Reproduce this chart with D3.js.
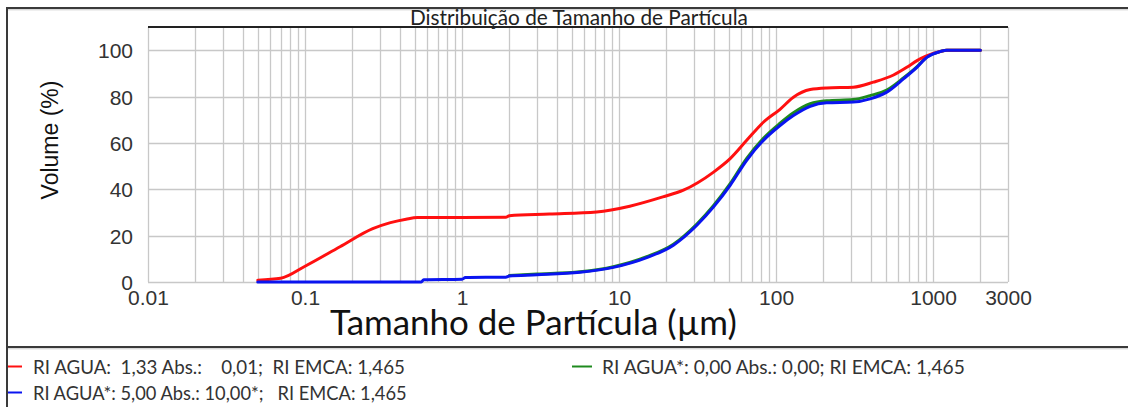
<!DOCTYPE html>
<html>
<head>
<meta charset="utf-8">
<script src="https://cdn.jsdelivr.net/npm/d3@7"></script>
<style>
  html, body { margin: 0; padding: 0; background: #fff; }
  svg { display: block; }
  text { white-space: pre; }
</style>
</head>
<body>
<svg id="chart" width="1128" height="407"></svg>
<script>
// Particle size distribution: cumulative volume (%) versus particle size (µm)
const chartTitle = "Distribuição de Tamanho de Partícula";
const xTitle = "Tamanho de Partícula (µm)";
const yTitle = "Volume (%)";

const xTickValues = [0.01, 0.1, 1, 10, 100, 1000, 3000];
const xTickLabels = ["0.01", "0.1", "1", "10", "100", "1000", "3000"];
const yTickValues = [0, 20, 40, 60, 80, 100];

// [size µm, cumulative volume %]
const seriesRed = [
  [0.05, 0.8], [0.07, 1.6], [0.1, 6.8], [0.167, 15.2], [0.27, 23], [0.35, 25.6],
  [0.44, 27.1], [0.52, 27.8], [1.0, 27.8], [1.9, 27.9], [2.0, 28.6], [3.6, 29.3],
  [7.2, 30.2], [11.7, 32.7], [19, 36.7], [25.7, 39.6], [40, 47.4], [51, 53.2],
  [65, 61.1], [83, 68.9], [106, 74.5], [129, 79.7], [165, 83], [210, 83.7],
  [310, 84], [417, 86.2], [560, 89.3], [680, 92.6], [790, 95.5], [900, 97.4],
  [1108, 99.4], [1222, 100], [2000, 100]
];
const seriesGreen = [
  [2.0, 2.8], [3.0, 3.4], [5.65, 4.4], [9.2, 6.6], [15, 10.9], [22.2, 16.3],
  [31.3, 25], [40, 33], [51, 42.4], [65, 53.3], [83, 62], [106, 68.5],
  [129, 73], [165, 76.9], [210, 78.2], [310, 78.7], [397, 80.4], [507, 82.8],
  [647, 88], [788, 92.8], [912, 97], [1108, 99.4], [1222, 100], [2000, 100]
];
const seriesBlue = [
  [0.05, 0], [0.55, 0], [0.57, 1.0], [1.0, 1.2], [1.05, 1.9], [1.9, 2.1],
  [2.0, 2.6], [3.0, 3.1], [5.65, 4.2], [9.2, 6.3], [15, 10.5], [22.2, 15.9],
  [31.3, 24.5], [40, 32.4], [51, 41.7], [65, 52.5], [83, 61.1], [106, 67.5],
  [129, 71.8], [165, 75.8], [210, 77.3], [310, 77.6], [397, 79], [507, 81.9],
  [647, 87.6], [788, 92.6], [912, 96.9], [1108, 99.4], [1222, 100], [2000, 100]
];

const legendLabels = [
  "RI AGUA:  1,33 Abs.:    0,01;  RI EMCA: 1,465",
  "RI AGUA*: 0,00 Abs.: 0,00; RI EMCA: 1,465",
  "RI AGUA*: 5,00 Abs.: 10,00*;   RI EMCA: 1,465"
];
const colors = { red: "#ff1010", green: "#1e8a1e", blue: "#0a14f0" };

const svg = d3.select("#chart");
const plot = { left: 148, right: 1008, top: 27, bottom: 282 };

const x = d3.scaleLog().domain([0.01, 3000]).range([plot.left, plot.right]);
const y = d3.scaleLinear().domain([0, 110]).range([plot.bottom, plot.top]);

// frame lines of the panel
const frame = svg.append("g");
frame.append("line").attr("x1", 7).attr("x2", 1128).attr("y1", 8).attr("y2", 8)
  .attr("stroke", "#3a3a3a").attr("stroke-width", 2);
frame.append("line").attr("x1", 7).attr("x2", 1128).attr("y1", 9.8).attr("y2", 9.8)
  .attr("stroke", "#c8c8c8").attr("stroke-width", 1);
frame.append("line").attr("x1", 7).attr("x2", 1128).attr("y1", 347).attr("y2", 347)
  .attr("stroke", "#3a3a3a").attr("stroke-width", 2);
frame.append("line").attr("x1", 7).attr("x2", 1128).attr("y1", 348.8).attr("y2", 348.8)
  .attr("stroke", "#c8c8c8").attr("stroke-width", 1);
frame.append("line").attr("x1", 7).attr("x2", 7).attr("y1", 7).attr("y2", 407)
  .attr("stroke", "#3a3a3a").attr("stroke-width", 2);

// grid
const grid = svg.append("g").attr("stroke", "#c8c8c8").attr("stroke-width", 1.3);
grid.selectAll("line.v").data(x.ticks()).join("line")
  .attr("class", "v")
  .attr("x1", d => Math.round(x(d)) + 0.5).attr("x2", d => Math.round(x(d)) + 0.5)
  .attr("y1", plot.top).attr("y2", plot.bottom);
grid.selectAll("line.h").data(yTickValues).join("line")
  .attr("class", "h")
  .attr("x1", plot.left).attr("x2", plot.right)
  .attr("y1", d => Math.round(y(d)) + 0.5).attr("y2", d => Math.round(y(d)) + 0.5);

// top edge of the plot
svg.append("line").attr("x1", plot.left).attr("x2", plot.right)
  .attr("y1", plot.top).attr("y2", plot.top)
  .attr("stroke", "#222").attr("stroke-width", 2);

// axes
const xAxis = d3.axisBottom(x).tickValues(xTickValues)
  .tickFormat((d, i) => xTickLabels[i]).tickSize(0).tickPadding(8);
const gx = svg.append("g").attr("transform", `translate(0,${plot.bottom})`).call(xAxis);
gx.select(".domain").remove();
gx.selectAll("text").attr("font-family", "Liberation Sans, Arial, sans-serif")
  .attr("font-size", 21).attr("fill", "#333").attr("dy", "0.72em");

const yAxis = d3.axisLeft(y).tickValues(yTickValues).tickSize(0).tickPadding(15);
const gy = svg.append("g").attr("transform", `translate(${plot.left},0)`).call(yAxis);
gy.select(".domain").remove();
gy.selectAll("text").attr("font-family", "Liberation Sans, Arial, sans-serif")
  .attr("font-size", 21).attr("fill", "#333").attr("dy", "0.36em");

// curves
const line = d3.line().x(d => x(d[0])).y(d => y(d[1])).curve(d3.curveMonotoneX);
[[seriesGreen, colors.green], [seriesRed, colors.red], [seriesBlue, colors.blue]]
  .forEach(([data, c]) => {
    svg.append("path").datum(data).attr("d", line)
      .attr("fill", "none").attr("stroke", c).attr("stroke-width", 3)
      .attr("stroke-linejoin", "round").attr("stroke-linecap", "round");
  });

// text helpers: size a label so its width lands on the given span
function fitWidth(sel, width) {
  const node = sel.node();
  const fs = parseFloat(sel.attr("font-size"));
  const w = node.getComputedTextLength();
  if (w > 0) sel.attr("font-size", (fs * width / w).toFixed(2));
  return sel;
}
const labelFont = "Lato, 'Open Sans', sans-serif";

fitWidth(svg.append("text").attr("x", 410).attr("y", 25)
  .attr("font-family", labelFont).attr("font-size", 20).attr("fill", "#222")
  .text(chartTitle), 338);

fitWidth(svg.append("text").attr("x", 330).attr("y", 335)
  .attr("font-family", labelFont).attr("font-size", 28).attr("fill", "#111")
  .text(xTitle), 407);

svg.append("text")
  .attr("transform", "translate(58,140) rotate(-90)")
  .attr("text-anchor", "middle")
  .attr("font-family", "Liberation Sans, Arial, sans-serif").attr("font-size", 23)
  .attr("fill", "#111").text(yTitle);

// legend
const legendItems = [
  { label: legendLabels[0], color: colors.red, lx: 8, tx: 33, y: 374, w: 372 },
  { label: legendLabels[1], color: colors.green, lx: 572, tx: 602, y: 374, w: 363 },
  { label: legendLabels[2], color: colors.blue, lx: 8, tx: 33, y: 400, w: 374 }
];
const lg = svg.append("g");
legendItems.forEach(it => {
  lg.append("line").attr("x1", it.lx).attr("x2", it.lx + (it.lx < 100 ? 14 : 20))
    .attr("y1", it.y - 7.5).attr("y2", it.y - 7.5)
    .attr("stroke", it.color).attr("stroke-width", 2);
  fitWidth(lg.append("text").attr("x", it.tx).attr("y", it.y)
    .attr("font-family", labelFont).attr("font-size", 20).attr("fill", "#333")
    .text(it.label), it.w);
});
</script>
</body>
</html>
